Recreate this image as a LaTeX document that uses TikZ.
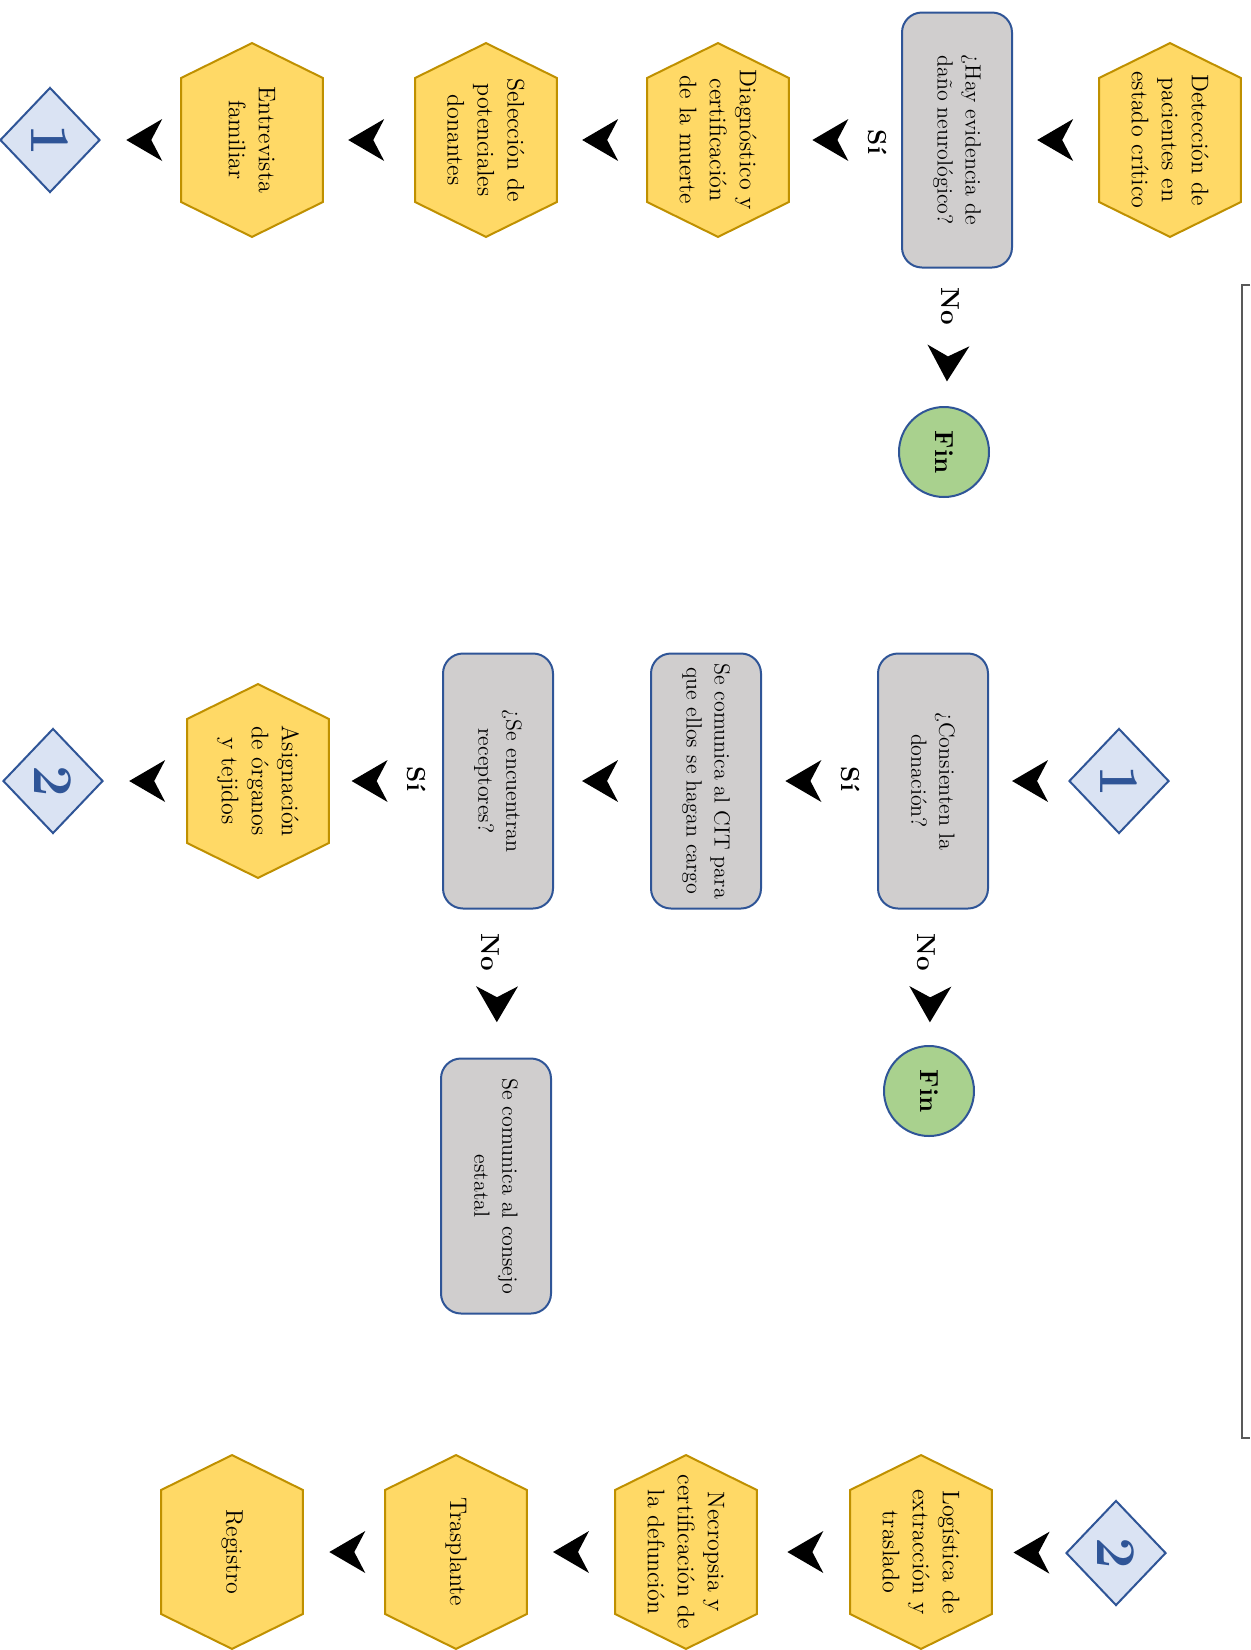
\documentclass[tikz,border=0pt]{standalone}
\usetikzlibrary{shapes.geometric,calc,decorations.markings,backgrounds}
\definecolor{hexfill}{HTML}{FFD966}
\definecolor{hexline}{HTML}{BF9000}
\definecolor{boxfill}{HTML}{D0CECE}
\definecolor{blueline}{HTML}{2F5597}
\definecolor{finfill}{HTML}{A9D18E}
\definecolor{dfill}{HTML}{DAE3F3}
\definecolor{brk}{HTML}{595959}
\tikzset{
 hexnode/.style={rotate=-90, minimum width=96.5pt, minimum height=70.5pt, inner sep=1pt, align=center, font=\fontsize{12}{15}\selectfont},
 hexdraw/.style={draw=hexline, fill=hexfill, line width=1pt},
 qbox/.style={rotate=-90, draw=blueline, fill=boxfill, line width=1pt, rounded corners=10pt, minimum width=127.5pt, minimum height=55pt, inner sep=2pt, align=center, font=\fontsize{11}{14}\selectfont},
 finnode/.style={rotate=-90, circle, draw=blueline, fill=finfill, line width=1pt, minimum size=45pt, inner sep=0pt, font=\fontsize{13}{15}\selectfont\bfseries},
 connnode/.style={rotate=-90, diamond, draw=blueline, fill=dfill, line width=1pt, minimum width=52.5pt, minimum height=50pt, inner sep=0pt, text=blueline, font=\fontsize{28}{30}\selectfont\bfseries},
 lbl/.style={rotate=-90, font=\fontsize{13}{15}\selectfont\bfseries, inner sep=0pt},
 flow/.style={postaction={decorate}, decoration={markings, mark=at position #1 with {\fill[black] (9pt,0pt) -- (-9pt,10.5pt) .. controls (-6pt,5pt) .. (-3.5pt,0pt) .. controls (-6pt,-5pt) .. (-9pt,-10.5pt) -- cycle;}}},
 flow/.default=0.5
}
\begin{document}
\begin{tikzpicture}[x=0.5pt,y=-0.5pt]
\useasboundingbox (0,0) rectangle (1250,1650);
% top row
\node[hexnode] (det) at (1170,140) {Detección de\\pacientes en\\estado crítico};
\node[qbox] (hay) at (957,140) {¿Hay evidencia de\\daño neurológico?};
\node[finnode] (fin1) at (944,452) {Fin};
\node[hexnode] (diag) at (718,140) {Diagnóstico y\\certificación\\de la muerte};
\node[hexnode] (sel) at (486,140) {Selección de\\potenciales\\donantes};
\node[hexnode] (ent) at (252,140) {Entrevista\\familiar};
\node[connnode] (c1a) at (50,140) {1};
% middle row
\node[connnode] (c1b) at (1119,781) {1};
\node[qbox] (cons) at (933,781) {¿Consienten la\\donación?};
\node[finnode] (fin2) at (929,1091) {Fin};
\node[qbox] (cit) at (706,781) {Se comunica al CIT para\\que ellos se hagan cargo};
\node[qbox] (rec) at (498,781) {¿Se encuentran\\receptores?};
\node[qbox] (consejo) at (496,1186) {Se comunica al consejo\\estatal};
\node[hexnode] (asig) at (258,781) {Asignación\\de órganos\\y tejidos};
\node[connnode] (c2a) at (53,781) {2};
% bottom row
\node[connnode] (c2b) at (1116,1553) {2};
\node[hexnode] (log) at (921,1552) {Logística de\\extracción y\\traslado};
\node[hexnode] (nec) at (686,1552) {Necropsia y\\certificación de\\la defunción};
\node[hexnode] (tra) at (456,1552) {Trasplante};
\node[hexnode] (reg) at (232,1552) {Registro};
% labels
\node[lbl] (si1) at (877,142) {Sí};
\node[lbl] (no1) at (950,306) {No};
\node[lbl] (si2) at (850,779) {Sí};
\node[lbl] (no2) at (926,952) {No};
\node[lbl] (si3) at (416,779) {Sí};
\node[lbl] (no3) at (490,952) {No};
% hexagon outlines
\begin{scope}[on background layer]
\foreach \n in {det,diag,sel,ent,asig,log,nec,tra,reg}{
 \draw[hexdraw] (\n.west) -- ($(\n.north west)!0.18!(\n.north east)$) -- ($(\n.north west)!0.82!(\n.north east)$) -- (\n.east) -- ($(\n.south west)!0.82!(\n.south east)$) -- ($(\n.south west)!0.18!(\n.south east)$) -- cycle;
}
\end{scope}
% connectors (arrowheads only)
\path[flow=0.51] (det) -- (hay);
\path[flow=0.63] (hay) -- (diag);
\path[flow=0.69] (hay) -- (fin1);
\path[flow=0.52] (diag) -- (sel);
\path[flow=0.53] (sel) -- (ent);
\path[flow=0.46] (ent) -- (c1a);
\path[flow=0.48] (c1b) -- (cons);
\path[flow=0.64] (cons) -- (cit);
\path[flow=0.70] (cons) -- (fin2);
\path[flow=0.52] (cit) -- (rec);
\path[flow=0.64] (rec) -- (asig);
\path[flow=0.64] (rec) -- (consejo);
\path[flow=0.48] (asig) -- (c2a);
\path[flow=0.46] (c2b) -- (log);
\path[flow=0.48] (log) -- (nec);
\path[flow=0.50] (nec) -- (tra);
\path[flow=0.46] (tra) -- (reg);
% bracket
\draw[brk, line width=1pt] (1250,285) -- (1242,285) -- (1242,1438) -- (1250,1438);
\end{tikzpicture}
\end{document}
